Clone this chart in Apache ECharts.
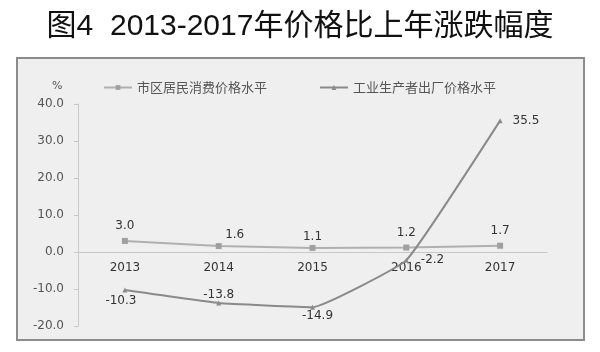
<!DOCTYPE html>
<html>
<head>
<meta charset="utf-8">
<script src="https://cdn.jsdelivr.net/npm/echarts@6/dist/echarts.min.js"></script>
<style>
  html, body { margin: 0; padding: 0; background: #fff; }
  #chart { width: 600px; height: 352px; }
</style>
</head>
<body>
<div id="chart"></div>
<script>
const years = ['2013', '2014', '2015', '2016', '2017']
const cpiValues = [3.0, 1.6, 1.1, 1.2, 1.7]
const ppiValues = [-10.3, -13.8, -14.9, -2.2, 35.5]
const yTicks = [-20, -10, 0, 10, 20, 30, 40]

// where each point label sits
const cpiLabelPos = [
  { position: 'top', distance: 6 },
  { position: 'top', distance: 2, offset: [16, 0] },
  { position: 'top', distance: 2 },
  { position: 'top', distance: 6 },
  { position: 'top', distance: 6 }
]
const ppiLabelPos = [
  { position: 'bottom', distance: 2, offset: [-4, 0] },
  { position: 'top', distance: 0 },
  { position: 'bottom', distance: 0, offset: [5, 0] },
  { position: 'right', distance: 12 },
  { position: 'right', distance: 10 }
]

const chart = echarts.init(document.getElementById('chart'))
const numFont = 'DejaVu Sans'
const cjkFont = 'Noto Sans CJK SC'

const option = {
  backgroundColor: '#fff',
  animation: false,
  title: {
    text: '图4  2013-2017年价格比上年涨跌幅度',
    left: 'center',
    top: 7,
    textStyle: { fontFamily: 'Liberation Sans, Noto Sans CJK SC', fontSize: 30, fontWeight: 'normal', color: '#111' }
  },
  graphic: [
    {
      type: 'rect',
      z: -10,
      shape: { x: 17, y: 58, width: 567, height: 282 },
      style: { fill: '#efefef', stroke: '#8c8c8c', lineWidth: 2 }
    },
    {
      type: 'text',
      left: 52,
      top: 81,
      style: { text: '%', fontFamily: numFont, fontSize: 11, fill: '#555' }
    }
  ],
  legend: {
    top: 76,
    left: 98,
    itemGap: 52,
    itemWidth: 28,
    itemHeight: 6,
    textStyle: { fontFamily: cjkFont, fontSize: 13, color: '#555' },
    data: ['市区居民消费价格水平', '工业生产者出厂价格水平']
  },
  grid: { left: 78, right: 53, top: 104, bottom: 26 },
  xAxis: {
    type: 'category',
    data: years,
    offset: -74,
    axisLine: { onZero: false, lineStyle: { color: '#c8c8c8' } },
    axisTick: { lineStyle: { color: '#c8c8c8' }, length: 4 },
    axisLabel: { fontFamily: numFont, fontSize: 12, color: '#333', margin: 10 }
  },
  yAxis: {
    type: 'value',
    min: yTicks[0],
    max: yTicks[yTicks.length - 1],
    interval: 10,
    axisLine: { show: true, lineStyle: { color: '#c8c8c8' } },
    axisTick: { show: true, inside: false, length: 4, lineStyle: { color: '#c8c8c8' } },
    splitLine: { show: false },
    axisLabel: {
      fontFamily: numFont,
      fontSize: 12,
      color: '#555',
      margin: 14,
      formatter: v => v.toFixed(1)
    }
  },
  series: [
    {
      name: '市区居民消费价格水平',
      type: 'line',
      data: cpiValues.map((v, i) => ({ value: v, label: cpiLabelPos[i] })),
      symbol: 'rect',
      symbolSize: 6,
      color: '#a0a0a0',
      lineStyle: { width: 2, color: '#b0b0b0' },
      itemStyle: { color: '#a0a0a0' },
      label: {
        show: true,
        fontFamily: numFont,
        fontSize: 12,
        color: '#333',
        formatter: p => p.value.toFixed(1)
      }
    },
    {
      name: '工业生产者出厂价格水平',
      type: 'line',
      data: ppiValues.map((v, i) => ({ value: v, label: ppiLabelPos[i] })),
      smooth: 0.1,
      symbol: 'triangle',
      symbolSize: 5,
      color: '#8a8a8a',
      lineStyle: { width: 2, color: '#8a8a8a' },
      itemStyle: { color: '#8a8a8a' },
      label: {
        show: true,
        fontFamily: numFont,
        fontSize: 12,
        color: '#333',
        formatter: p => p.value.toFixed(1)
      }
    }
  ]
}

chart.setOption(option)
</script>
</body>
</html>
